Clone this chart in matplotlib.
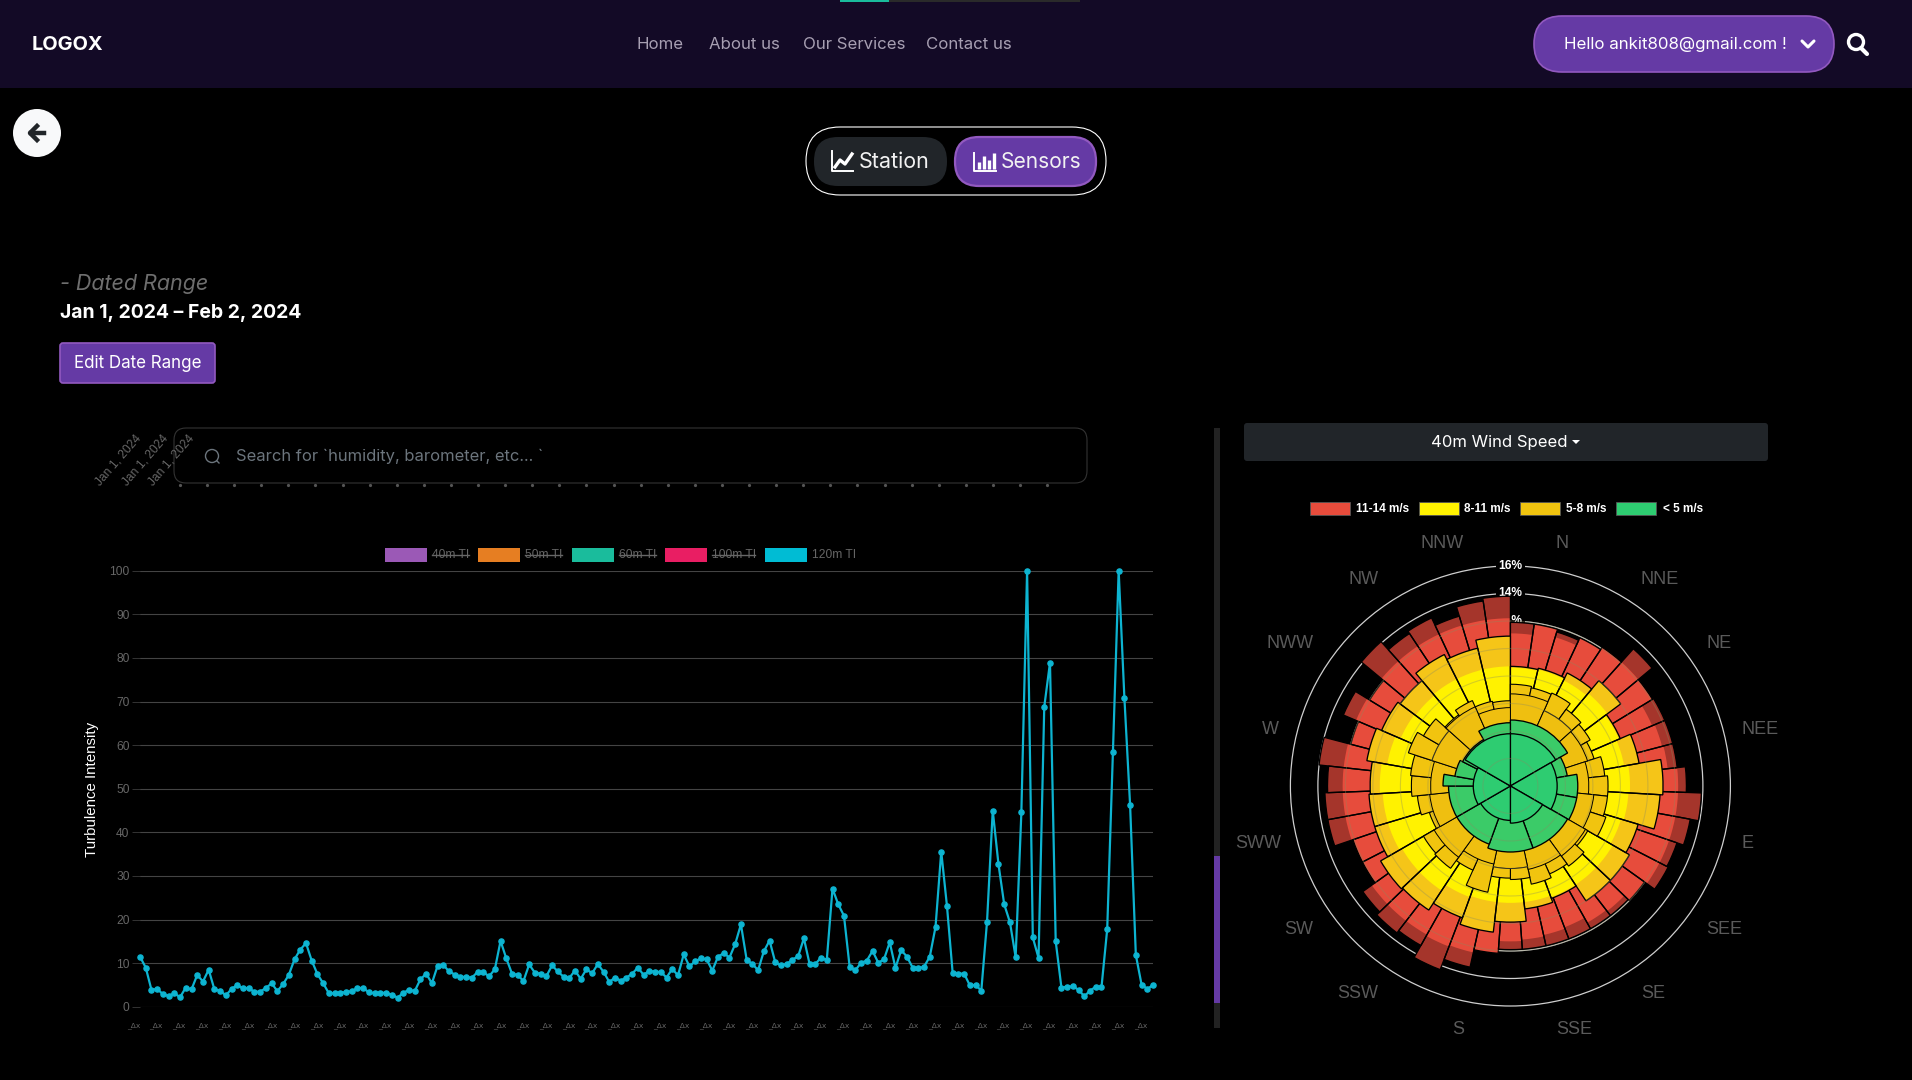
import numpy as np
import matplotlib
matplotlib.use("Agg")
import matplotlib.pyplot as plt
from matplotlib.patches import FancyBboxPatch, Circle, Rectangle

UI_FONT = "Inter"
CHART_FONT = "Liberation Sans"

# line chart, 120m TI
ti_120m = [
    11.5, 9.0, 3.9, 4.1, 2.9, 2.5, 3.1, 2.2, 4.4, 4.0, 7.3, 5.8, 8.5, 4.0, 3.7, 2.6, 4.1, 5.0, 4.2, 4.3,
    3.4, 3.5, 4.3, 5.4, 3.6, 5.2, 7.3, 10.9, 13.1, 14.6, 10.6, 7.5, 5.4, 3.1, 3.1, 3.2, 3.4, 3.6, 4.3, 4.3,
    3.3, 3.1, 3.2, 3.2, 2.8, 2.1, 3.2, 3.9, 3.6, 6.3, 7.6, 5.4, 9.4, 9.6, 8.1, 7.4, 6.9, 6.8, 6.7, 8.0,
    7.9, 7.0, 8.6, 15.1, 11.1, 7.6, 7.3, 5.9, 9.7, 7.8, 7.6, 7.0, 9.5, 8.1,
    6.9, 6.6, 8.3, 6.4, 8.6, 7.7, 9.8, 8.0, 5.7, 6.7, 6.0, 6.7, 7.6, 9.0, 7.3, 8.3, 8.0, 8.0, 6.7, 8.7,
    7.2, 12.0, 9.3, 10.4, 11.1, 10.9, 8.3, 11.5, 12.3, 11.3, 14.4, 18.9, 10.8, 9.8, 8.4, 12.7, 15.2, 10.2,
    9.5, 9.8, 10.8, 11.6, 15.7, 9.8, 9.8, 11.3, 10.7, 27.1, 23.5, 20.9, 9.1, 8.4, 10.1, 10.6, 12.8, 10.1,
    10.9, 14.8, 8.9, 13.0, 11.5, 9.0, 8.8, 9.2, 11.5, 18.3, 35.6, 23.1, 7.7, 7.6, 7.6, 4.9, 5.0, 3.7,
    19.5, 45.0, 32.7, 23.5, 19.4, 11.4, 44.6, 100, 15.9, 11.2, 68.8, 78.9, 15.0, 4.4, 4.6, 4.7, 3.9, 2.4,
    3.7, 4.6, 4.5, 17.8, 58.5, 100, 70.9, 46.2, 11.9, 5.1, 4.1, 5.0,
]
y_ticks = [0, 10, 20, 30, 40, 50, 60, 70, 80, 90, 100]
series_names = ["40m TI", "50m TI", "60m TI", "100m TI", "120m TI"]
series_colors = ["#9b59b6", "#e67e22", "#1abc9c", "#e91e63", "#00bcd4"]
date_labels = ["Jan 1, 2024", "Jan 1, 2024", "Jan 1, 2024"]

# wind rose, percent per sector going clockwise from north
red_outer = [11.9, 11.9, 11.7, 11.9, 12.1, 13.4, 12.1, 12.2, 12.2, 12.2, 12.8, 13.9, 13.3, 12.8, 12.9, 12.0, 11.9, 11.9,
             11.9, 11.9, 11.9, 11.9, 12.2, 13.5, 14.3, 13.3, 13.5, 13.2, 12.1, 12.1, 13.5, 13.5, 13.3, 14.0, 12.0, 13.2,
             12.0, 14.1, 13.3, 13.5, 12.9, 13.6, 13.8]
red_inner = [11.1, 11.9, 11.3, 11.9, 12.1, 12.1, 12.1, 11.2, 11.4, 11.5, 12.2, 12.2, 12.2, 12.2, 12.2, 12.0, 11.5, 11.4,
             11.0, 11.1, 11.2, 11.3, 12.2, 12.4, 12.5, 12.4, 12.4, 12.4, 12.1, 12.1, 12.2, 12.2, 12.2, 12.2, 12.0, 12.2,
             12.0, 12.2, 12.2, 12.2, 12.2, 12.2, 12.2]
gold_outer = [8.7, 8.8, 9.2, 10.0, 8.7, 9.5, 11.1, 10.9, 9.7, 10.0, 10.0, 8.7, 9.0, 9.9, 10.7, 10.2, 10.8, 10.9, 10.3,
              10.3, 10.2, 10.6, 10.2, 10.0, 10.7, 10.3, 10.9]
yellow = [8.6, 8.7, 8.6, 8.8, 8.6, 8.4, 8.7, 8.6, 8.4, 8.6, 8.6, 8.6, 8.5, 8.5, 8.5, 8.6, 9.1, 9.1, 9.3, 9.3, 9.5, 9.1,
          8.7, 8.6, 8.7, 8.7, 8.7]
gold_inner = [7.4, 7.3, 7.4, 6.9, 6.7, 6.4, 6.9, 7.1, 7.1, 7.3, 6.5, 7.2, 7.0, 7.3, 6.8, 6.7, 7.9, 6.7, 7.4, 7.3, 6.2,
              6.8, 7.2, 7.3, 7.8, 7.3, 6.4, 6.8, 6.3, 6.2]
gold_core = [6.7, 6.0, 5.9, 5.7, 6.1, 6.3, 6.2, 6.0, 5.8, 6.4, 5.9, 5.8, 6.0, 6.3, 5.7]
green_edges = [0, 60, 80, 100, 120, 160, 200, 240, 270, 280, 297, 330, 360]
green_outer = [4.8, 4.2, 4.9, 4.9, 4.8, 4.8, 4.5, 4.5, 4.9, 4.1, 3.9, 4.6]
green_inner_edges = [0, 60, 120, 180, 240, 300, 360]
green_inner = [3.8, 3.4, 2.7, 2.5, 2.7, 3.8]
directions = ["N", "NNE", "NE", "NEE", "E", "SEE", "SE", "SSE", "S", "SSW", "SW", "SWW", "W", "NWW", "NW", "NNW"]
direction_x = [1562, 1660, 1719, 1760, 1748, 1724, 1653, 1574, 1458, 1358, 1299, 1258, 1270, 1290, 1364, 1442]
direction_y = [544, 580, 644, 729, 844, 929, 993, 1030, 1030, 993, 929, 844, 729, 644, 580, 544]
rose_legend = ["11-14 m/s", "8-11 m/s", "5-8 m/s", "< 5 m/s"]
rose_colors = ["#e74c3c", "#fff200", "#f1c40f", "#2ecc71"]

W, H = 1912, 1080
fig = plt.figure(figsize=(W / 100, H / 100), dpi=100, facecolor="black")


def px_axes(left, top, right, bottom, **kw):
    return fig.add_axes([left / W, 1 - bottom / H, (right - left) / W, (bottom - top) / H], **kw)


def fs(px):
    return px * 0.72


# ---- line chart
ax = px_axes(140, 570.7, 1153, 1006.8)
ax.set_facecolor("black")
x = np.arange(len(ti_120m))
ax.plot(x, ti_120m, color="#0db4d1", lw=1.6, marker="o", ms=3.7, clip_on=False, zorder=3)
ax.set_xlim(0, len(ti_120m) - 1)
ax.set_ylim(0, 100)
ax.set_yticks(y_ticks)
ax.set_yticklabels([str(v) for v in y_ticks], family=CHART_FONT, fontsize=fs(12), color="#666666")
ax.set_xticks(x[::4])
ax.set_xticklabels(["_\u0394x"] * len(x[::4]), family="DejaVu Sans", fontsize=fs(7.5), color="#666666", ha="right")
ax.tick_params(axis="y", length=6, width=0.7, color="#333333", pad=1.5)
ax.tick_params(axis="x", length=0, pad=11)
ax.grid(axis="y", color="#444444", lw=0.8)
ax.set_axisbelow(True)
for s in ax.spines.values():
    s.set_visible(False)

# ---- wind rose
cx, cy, r16 = 1510.4, 786, 220
rmax = 16.2
r_px = r16 * rmax / 16
rose = px_axes(cx - r_px, cy - r_px, cx + r_px, cy + r_px, projection="polar")
rose.set_facecolor("black")
rose.set_theta_zero_location("N")
rose.set_theta_direction(-1)
rose.set_ylim(0, rmax)
rose.set_xticks([])
rose.set_yticks([12, 14, 16])
rose.set_yticklabels([])
rose.tick_params(axis="y", length=0)
rose.grid(axis="y", color="#cfcfcf", lw=0.9)
rose.set_axisbelow(True)
rose.spines["polar"].set_visible(False)


def ring(values, color, z, edge=0.95, edges=None):
    if edges is None:
        edges = np.linspace(0, 360, len(values) + 1)
    edges = np.radians(edges)
    kw = dict(edgecolor="black", linewidth=edge) if edge else dict(linewidth=0)
    rose.bar(edges[:-1], values, width=np.diff(edges), align="edge", color=color, zorder=z, **kw)


ring(red_outer, "#a5352b", 2, edge=0)
ring(red_inner, "#e74c3c", 2.1, edge=0)
ring(red_outer, "none", 2.2)
ring(gold_outer, "#f5c518", 3, edge=0)
ring(yellow, "#fff200", 3.1, edge=0)
ring(gold_outer, "none", 3.2)
ring(gold_inner, "#f1c40f", 4, edge=0.8)
ring(gold_core, "#efbf10", 4.1, edge=0.7)
ring(green_outer, "#3bcb68", 5, edges=green_edges)
ring(green_inner, "#2ecc71", 5.1, edges=green_inner_edges)

# grid showing faintly through the wedges
circle = np.linspace(0, 2 * np.pi, 360)
for r in [2, 4, 6, 8, 10, 12]:
    rose.plot(circle, np.full(360, r), color="#8a8a60", alpha=0.35, lw=0.8, zorder=6)

for r, lab in [(16, "16%"), (14, "14%"), (12, "12%")]:
    rose.text(0, r, lab, ha="center", va="center", family=CHART_FONT, fontsize=fs(12), fontweight="bold",
              color="white", zorder=1.5, bbox=dict(facecolor="black", edgecolor="none", pad=2))

# ---- everything else in pixel coordinates
ui = fig.add_axes([0, 0, 1, 1], zorder=5)
ui.set_xlim(0, W)
ui.set_ylim(H, 0)
ui.axis("off")
ui.patch.set_alpha(0)


def box(left, top, right, bottom, radius, color, edge="none", lw=1.0):
    ui.add_patch(FancyBboxPatch((left + radius, top + radius), right - left - 2 * radius, bottom - top - 2 * radius,
                                boxstyle="round,pad=%f,rounding_size=%f" % (radius, radius),
                                facecolor=color, edgecolor=edge, lw=lw))


def label(px, py, s, size, color="white", ha="left", weight="normal", style="normal", family=UI_FONT, **kw):
    return ui.text(px, py, s, fontsize=fs(size), color=color, ha=ha, va="center", fontweight=weight,
                   fontstyle=style, family=family, **kw)


PURPLE = "#653aa5"
PURPLE_EDGE = "#9259c0"

for d, px, py in zip(directions, direction_x, direction_y):
    label(px, py, d, 18, color="#5a5a5a", ha="center", family=CHART_FONT)

# navbar
ui.add_patch(Rectangle((0, 0), W, 88, color="#130a26", lw=0))
ui.add_patch(Rectangle((840, 0), 240, 1.5, color="#2a2a2a", lw=0))
ui.add_patch(Rectangle((840, 0), 49, 1.5, color="#1abc9c", lw=0))
label(32, 45, "LOGOX", 20, weight="bold")
for px, s in [(637, "Home"), (709, "About us"), (803, "Our Services"), (926, "Contact us")]:
    label(px, 44.5, s, 16.8, color="#a79fb2")
box(1534, 16, 1834, 72, 28, PURPLE, PURPLE_EDGE, 1.2)
label(1564, 44.5, "Hello ankit808@gmail.com !", 16.9)
ui.plot([1802, 1808, 1814], [41, 47, 41], color="white", lw=2.2, solid_capstyle="round")
ui.add_patch(Circle((1856, 42), 7.5, facecolor="none", edgecolor="white", lw=2.4))
ui.plot([1861, 1867], [48, 54], color="white", lw=3, solid_capstyle="round")

# back button
ui.add_patch(Circle((37, 133), 24, color="#f8f9fa", lw=0))
ui.plot([44, 31], [133, 133], color="#212529", lw=3.2)
ui.plot([37, 30, 37], [126, 133, 140], color="#212529", lw=3.2)

# station / sensors toggle
box(806, 127, 1106, 195, 34, "black", "white", 0.8)
box(814, 137, 947, 186, 24, "#212529")
box(955, 137, 1096, 186, 24, PURPLE, PURPLE_EDGE, 1.6)
ui.plot([832, 832, 853], [151, 171, 171], color="white", lw=1.4)
ui.plot([835, 840, 845, 852], [167, 160, 164, 154], color="white", lw=2.4)
label(859, 162.5, "Station", 21.5, color="#f2f2f2")
ui.plot([974, 974, 996], [153, 171, 171], color="white", lw=1.4)
ui.vlines([979, 984, 989, 994], [162, 156, 160, 153], [169, 169, 169, 169], color="white", lw=2.4)
label(1001, 162.5, "Sensors", 21, color="#f2f2f2")

# date range
label(60, 284, "- Dated Range", 21.5, color="#6e6e6e", style="italic")
label(60, 313, "Jan 1, 2024 \u2013 Feb 2, 2024", 19.4, weight="bold")
box(60, 343, 215, 383, 3, PURPLE, PURPLE_EDGE, 1.2)
label(137.5, 363, "Edit Date Range", 17, ha="center")

# x axis left over above the chart, mostly behind the search box
for px, s in zip([102, 129, 155], date_labels):
    ui.text(px, 488, s, rotation=49, rotation_mode="anchor", ha="left", va="bottom", fontsize=fs(12),
            color="#666666", family=CHART_FONT)
ui.plot(np.arange(180, 1050, 27.1), np.full(33, 485), ls="none", marker="o", ms=1.3, color="#555555")
box(174, 428, 1087, 483, 12, "black", "#333333", 0.8)
ui.add_patch(Circle((212, 456), 6.5, facecolor="none", edgecolor="#6c757d", lw=1))
ui.plot([217, 219], [461, 463], color="#6c757d", lw=1)
label(236, 456.5, "Search for `humidity, barometer, etc... `", 16.6, color="#6c757d")

# legend of the line chart, all series but the last are switched off
legend_x = [385, 478, 572, 665, 765]
for i, (px, name, col) in enumerate(zip(legend_x, series_names, series_colors)):
    ui.add_patch(Rectangle((px, 548), 42, 14, color=col, lw=0))
    label(px + 47, 554.5, name, 12, color="#666666", family=CHART_FONT)
    if i < 4:
        wid = 37 if i < 3 else 43
        ui.plot([px + 47, px + 47 + wid], [554.5, 554.5], color="#666666", lw=1)
ui.text(92, 789, "Turbulence Intensity", rotation=90, ha="center", va="center", fontsize=fs(15),
        color="white", family=CHART_FONT)

# scrollbar between the panels
ui.add_patch(Rectangle((1214, 428), 6, 600, color="#222222", lw=0))
ui.add_patch(Rectangle((1214, 856), 6, 147, color=PURPLE, lw=0))

# wind rose dropdown and legend
box(1244, 423, 1768, 461, 3, "#212529")
label(1499, 442, "40m Wind Speed", 16.7, ha="center")
ui.fill([1572, 1580, 1576], [440, 440, 444], color="white", lw=0)
for px, name, col, tx in zip([1310, 1419, 1520, 1616], rose_legend, rose_colors, [1356, 1464, 1566, 1663]):
    ui.add_patch(Rectangle((px, 502), 40, 13, facecolor=col, edgecolor="#555555", lw=0.6))
    label(tx, 509, name, 11.7, family=CHART_FONT, weight="bold")

fig.savefig("out.png", dpi=100, facecolor="black")
